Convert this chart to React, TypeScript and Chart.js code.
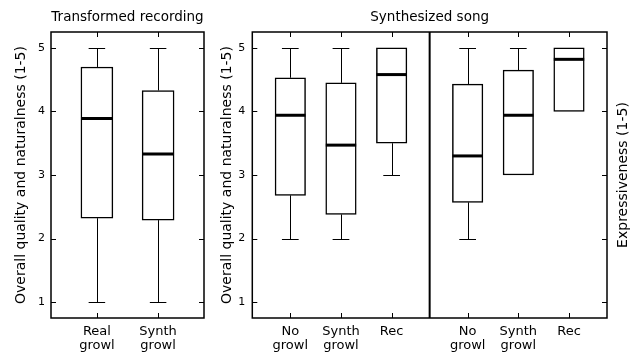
import React, { useEffect, useRef } from "react";
import { Chart, registerables } from "chart.js";

Chart.register(...registerables);

const FONT = "'DejaVu Sans', 'Noto Sans', sans-serif";

// y axis ticks (rating scale 1-5)
const yTickValues = [1, 2, 3, 4, 5];
const yMin = 0.75;
const yMax = 5.25;

// Panel 1: Transformed recording
const transformedTitle = "Transformed recording";
const transformedLabels = [["Real", "growl"], ["Synth", "growl"]];
const transformedPos = [1, 2];
const transformedMin = [1, 1];
const transformedQ1 = [2.32, 2.29];
const transformedMedian = [3.89, 3.33];
const transformedQ3 = [4.7, 4.33];
const transformedMax = [5, 5];

// Panel 2: Synthesized song
const songTitle = "Synthesized song";
const songLabels = [["No", "growl"], ["Synth", "growl"], ["Rec"]];

// Overall quality and naturalness
const qualityPos = [1, 2, 3];
const qualityMin = [2, 2, 3];
const qualityQ1 = [2.68, 2.38, 3.5];
const qualityMedian = [3.94, 3.47, 4.58];
const qualityQ3 = [4.53, 4.45, 5];
const qualityMax = [5, 5, 5];

// Expressiveness
const exprPos = [4.5, 5.5, 6.5];
const exprMin = [2, 3, 4];
const exprQ1 = [2.57, 3.0, 4.0];
const exprMedian = [3.3, 3.94, 4.82];
const exprQ3 = [4.43, 4.65, 5];
const exprMax = [5, 5, 5];

const separatorPos = 3.75;

const qualityAxisTitle = "Overall quality and naturalness (1-5)";
const exprAxisTitle = "Expressiveness (1-5)";

type Stats = {
  pos: number[];
  min: number[];
  q1: number[];
  med: number[];
  q3: number[];
  max: number[];
};

function boxPlugin(stats: Stats, boxHalf: number, capHalf: number, extra: { separator?: number; rightTitle?: string }) {
  return {
    id: "boxExtras",
    afterDatasetsDraw(chart: any) {
      const ctx = chart.ctx;
      const xs = chart.scales.x;
      const ys = chart.scales.y;
      ctx.save();
      ctx.strokeStyle = "#000";
      for (let i = 0; i < stats.pos.length; i++) {
        const xc = Math.round(xs.getPixelForValue(stats.pos[i])) + 0.5;
        const bl = xs.getPixelForValue(stats.pos[i] - boxHalf);
        const br = xs.getPixelForValue(stats.pos[i] + boxHalf);
        const cl = xs.getPixelForValue(stats.pos[i] - capHalf);
        const cr = xs.getPixelForValue(stats.pos[i] + capHalf);
        const yMinP = Math.round(ys.getPixelForValue(stats.min[i])) + 0.5;
        const yMaxP = Math.round(ys.getPixelForValue(stats.max[i])) + 0.5;
        const yQ1 = ys.getPixelForValue(stats.q1[i]);
        const yQ3 = ys.getPixelForValue(stats.q3[i]);
        ctx.lineWidth = 1;
        ctx.beginPath();
        if (stats.min[i] < stats.q1[i]) {
          ctx.moveTo(xc, yQ1);
          ctx.lineTo(xc, yMinP);
          ctx.moveTo(cl, yMinP);
          ctx.lineTo(cr, yMinP);
        }
        if (stats.max[i] > stats.q3[i]) {
          ctx.moveTo(xc, yQ3);
          ctx.lineTo(xc, yMaxP);
          ctx.moveTo(cl, yMaxP);
          ctx.lineTo(cr, yMaxP);
        }
        ctx.stroke();
        // median
        const ym = ys.getPixelForValue(stats.med[i]);
        ctx.lineWidth = 3;
        ctx.beginPath();
        ctx.moveTo(bl, ym);
        ctx.lineTo(br, ym);
        ctx.stroke();
      }
      ctx.restore();
    },
    afterDraw(chart: any) {
      const ctx = chart.ctx;
      const { left, right, top, bottom } = chart.chartArea;
      const xs = chart.scales.x;
      const ys = chart.scales.y;
      ctx.save();
      ctx.strokeStyle = "#000";
      // inward ticks
      ctx.lineWidth = 1;
      ctx.beginPath();
      const tl = 5;
      ys.ticks.forEach((t: any) => {
        const y = Math.round(ys.getPixelForValue(t.value)) + 0.5;
        ctx.moveTo(left, y);
        ctx.lineTo(left + tl, y);
        ctx.moveTo(right, y);
        ctx.lineTo(right - tl, y);
      });
      xs.ticks.forEach((t: any) => {
        const x = Math.round(xs.getPixelForValue(t.value)) + 0.5;
        ctx.moveTo(x, top);
        ctx.lineTo(x, top + tl);
        ctx.moveTo(x, bottom);
        ctx.lineTo(x, bottom - tl);
      });
      ctx.stroke();
      // separator
      if (extra.separator !== undefined) {
        const sx = xs.getPixelForValue(extra.separator);
        ctx.lineWidth = 2;
        ctx.beginPath();
        ctx.moveTo(sx, top);
        ctx.lineTo(sx, bottom);
        ctx.stroke();
      }
      // frame
      ctx.lineWidth = 1.5;
      ctx.strokeRect(left, top, right - left, bottom - top);
      // right axis title (reads bottom to top)
      if (extra.rightTitle) {
        const y2 = chart.scales.y2;
        ctx.fillStyle = "#000";
        ctx.font = `14px ${FONT}`;
        ctx.textAlign = "center";
        ctx.textBaseline = "middle";
        ctx.translate(y2.right - 17, (top + bottom) / 2);
        ctx.rotate(-Math.PI / 2);
        ctx.fillText(extra.rightTitle, 0, 0);
      }
      ctx.restore();
    },
  };
}

function makeConfig(opts: {
  title: string;
  positions: number[];
  labels: string[][];
  stats: Stats;
  xMin: number;
  xMax: number;
  barPx: number;
  boxHalf: number;
  capHalf: number;
  yWidth: number;
  yTitleOffset: number;
  yTickPad: number;
  padRight: number;
  separator?: number;
  rightTitle?: string;
  rightWidth?: number;
}) {
  const { stats } = opts;
  const data = stats.pos.map((p, i) => ({ x: p, y: [stats.q1[i], stats.q3[i]] }));
  const scales: any = {
    x: {
      type: "linear",
      min: opts.xMin,
      max: opts.xMax,
      offset: false,
      afterBuildTicks: (s: any) => {
        s.ticks = opts.positions.map((v) => ({ value: v }));
      },
      afterFit: (s: any) => {
        s.height = 38;
      },
      grid: { display: false, drawTicks: false, tickLength: 0 },
      border: { display: false },
      ticks: {
        autoSkip: false,
        maxRotation: 0,
        padding: 6,
        color: "#000",
        font: { family: FONT, size: 13, lineHeight: 1.1 },
        callback: (v: any) => {
          const i = opts.positions.indexOf(Number(v));
          return i >= 0 ? opts.labels[i] : "";
        },
      },
    },
    y: {
      type: "linear",
      position: "left",
      min: yMin,
      max: yMax,
      afterBuildTicks: (s: any) => {
        s.ticks = yTickValues.map((v) => ({ value: v }));
      },
      afterFit: (s: any) => {
        s.width = opts.yWidth;
      },
      grid: { display: false, drawTicks: false, tickLength: 0 },
      border: { display: false },
      ticks: {
        padding: opts.yTickPad,
        color: "#000",
        font: { family: FONT, size: 11 },
        callback: (v: any) => String(v),
      },
      title: {
        display: true,
        text: qualityAxisTitle,
        color: "#000",
        font: { family: FONT, size: 14, lineHeight: 1.2 },
        padding: { top: opts.yTitleOffset - 8.4, bottom: 0 },
      },
    },
  };
  if (opts.rightTitle) {
    scales.y2 = {
      type: "linear",
      position: "right",
      min: yMin,
      max: yMax,
      afterBuildTicks: (s: any) => {
        s.ticks = yTickValues.map((v) => ({ value: v }));
      },
      afterFit: (s: any) => {
        s.width = opts.rightWidth;
      },
      grid: { display: false, drawTicks: false, tickLength: 0 },
      border: { display: false },
      ticks: { display: false },
    };
  }
  return {
    type: "bar",
    data: {
      datasets: [
        {
          data,
          backgroundColor: "#fff",
          borderColor: "#000",
          borderWidth: 1.5,
          borderSkipped: false,
          barThickness: opts.barPx,
        },
      ],
    },
    options: {
      responsive: false,
      animation: false,
      events: [],
      layout: { padding: { left: 0, right: opts.padRight, top: 0, bottom: 0 } },
      plugins: {
        legend: { display: false },
        tooltip: { enabled: false },
        title: {
          display: true,
          text: opts.title,
          color: "#000",
          fullSize: false,
          font: { family: FONT, size: 13.5, weight: "normal", lineHeight: 1.2 },
          padding: { top: 9, bottom: 6.8 },
        },
      },
      scales,
    },
    plugins: [boxPlugin(stats, opts.boxHalf, opts.capHalf, { separator: opts.separator, rightTitle: opts.rightTitle })],
  };
}

function ChartCanvas({ config, width, height, left }: { config: any; width: number; height: number; left: number }) {
  const ref = useRef<HTMLCanvasElement | null>(null);
  useEffect(() => {
    if (!ref.current) return;
    const chart = new Chart(ref.current, config);
    return () => chart.destroy();
  }, [config]);
  return (
    <canvas
      ref={ref}
      width={width}
      height={height}
      style={{ position: "absolute", left, top: 0, width, height }}
    />
  );
}

const leftConfig = makeConfig({
  title: transformedTitle,
  positions: transformedPos,
  labels: transformedLabels,
  stats: {
    pos: transformedPos,
    min: transformedMin,
    q1: transformedQ1,
    med: transformedMedian,
    q3: transformedQ3,
    max: transformedMax,
  },
  xMin: 0.25,
  xMax: 2.75,
  barPx: 32,
  boxHalf: 0.26,
  capHalf: 0.135,
  yWidth: 51,
  yTitleOffset: 21,
  yTickPad: 6,
  padRight: 6,
});

const rightConfig = makeConfig({
  title: songTitle,
  positions: [...qualityPos, ...exprPos],
  labels: [...songLabels, ...songLabels],
  stats: {
    pos: [...qualityPos, ...exprPos],
    min: [...qualityMin, ...exprMin],
    q1: [...qualityQ1, ...exprQ1],
    med: [...qualityMedian, ...exprMedian],
    q3: [...qualityQ3, ...exprQ3],
    max: [...qualityMax, ...exprMax],
  },
  xMin: 0.25,
  xMax: 7.25,
  barPx: 30.5,
  boxHalf: 0.3,
  capHalf: 0.165,
  yWidth: 42.3,
  yTitleOffset: 17,
  yTickPad: 7,
  padRight: 0,
  separator: separatorPos,
  rightTitle: exprAxisTitle,
  rightWidth: 33,
});

export default function App() {
  Chart.defaults.font.family = FONT;
  Chart.defaults.color = "#000";
  return (
    <div style={{ position: "absolute", left: 0, top: 0, width: 640, height: 356, background: "#fff" }}>
      <ChartCanvas config={leftConfig} width={210} height={356} left={0} />
      <ChartCanvas config={rightConfig} width={430} height={356} left={210} />
    </div>
  );
}
